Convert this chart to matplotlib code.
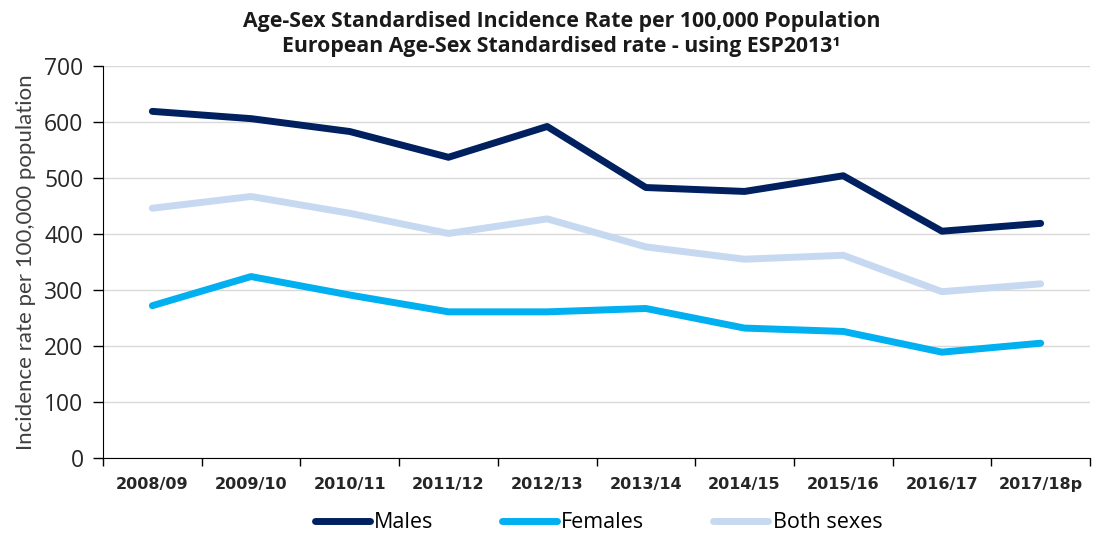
import numpy as np
import matplotlib.pyplot as plt

years = ['2008/09', '2009/10', '2010/11', '2011/12', '2012/13',
         '2013/14', '2014/15', '2015/16', '2016/17', '2017/18p']
males = [619, 606, 583, 537, 592, 483, 476, 504, 405, 419]
females = [272, 324, 291, 261, 261, 267, 232, 226, 189, 205]
both = [446, 467, 437, 401, 427, 377, 355, 362, 297, 311]

plt.rcParams['font.family'] = ['Open Sans', 'DejaVu Sans']

fig = plt.figure(figsize=(10.98, 5.35), dpi=100)
ax = fig.add_axes([103/1098, 1 - 458/535, (1090 - 103)/1098, (458 - 66)/535])

x = np.arange(len(years))
ax.plot(x, males, color='#002060', lw=5, label='Males', solid_capstyle='round')
ax.plot(x, females, color='#00B0F0', lw=5, label='Females', solid_capstyle='round')
ax.plot(x, both, color='#C6D9F1', lw=5, label='Both sexes', solid_capstyle='round')

ax.set_xlim(-0.5, len(years) - 0.5)
ax.set_ylim(0, 700)
ax.set_yticks(range(0, 701, 100))
ax.tick_params(axis='y', labelsize=16.5, labelcolor='#262626', length=7, width=1, pad=7)
ax.yaxis.grid(True, color='#d9d9d9', lw=1)
ax.set_axisbelow(True)

ax.set_xticks(x)
ax.set_xticklabels(years, fontsize=11.5, fontweight='bold', family='DejaVu Sans', color='#262626')
ax.tick_params(axis='x', which='major', length=0, pad=14)
ax.set_xticks(np.arange(-0.5, len(years), 1), minor=True)
ax.tick_params(axis='x', which='minor', length=6, width=1)

for s in ['top', 'right']:
    ax.spines[s].set_visible(False)
ax.spines['left'].set_color('#000000')
ax.spines['bottom'].set_color('#000000')

ax.set_ylabel('Incidence rate per 100,000 population', fontsize=16, family='Lato',
              color='#404040', labelpad=6)

fig.text(0.512, 1 - 22/535, 'Age-Sex Standardised Incidence Rate per 100,000 Population',
         ha='center', va='center', fontsize=15.3, fontweight='bold', color='#1a1a1a')
fig.text(0.511, 1 - 47/535, 'European Age-Sex Standardised rate - using ESP2013\u00b9',
         ha='center', va='center', fontsize=15.3, fontweight='bold', color='#1a1a1a')

fig.legend(loc='center', bbox_to_anchor=(0.545, 1 - 523/535), ncol=3, frameon=False,
           fontsize=15.5, handlelength=2.55, columnspacing=3.2, handletextpad=0.2)

plt.savefig('out.png', dpi=100)
